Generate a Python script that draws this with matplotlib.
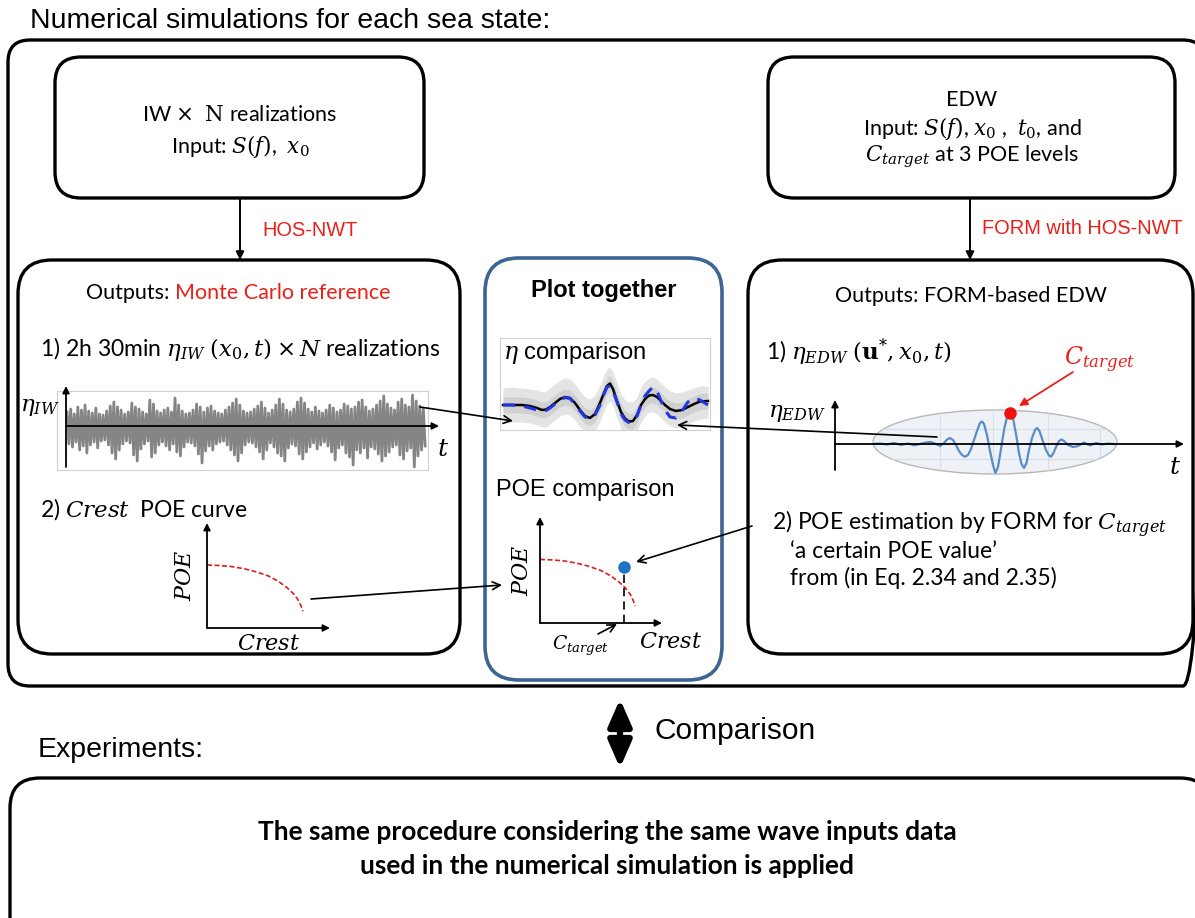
import numpy as np
import matplotlib
matplotlib.use('Agg')
import matplotlib.pyplot as plt
from matplotlib.patches import FancyBboxPatch, Ellipse

plt.rcParams['font.family'] = ['Lato', 'DejaVu Sans']
plt.rcParams['mathtext.fontset'] = 'dejavuserif'

W, H = 1195, 918
RED = '#e8201a'
BOX_BLUE = '#3d6594'
ARIAL = ['Liberation Sans', 'DejaVu Sans']

# ---- data ----
# irregular wave record: crest / trough heights of the sketched signal
iw_upper = [14, 17, 12, 19, 16, 21, 15, 13, 18, 12,
            11, 15, 20, 24, 19, 16, 12, 14, 23, 19,
            17, 14, 12, 26, 22, 15, 13, 16, 18, 14,
            28, 21, 15, 12, 13, 16, 22, 19, 14, 18,
            20, 15, 13, 12, 16, 19, 23, 27, 21, 15,
            13, 14, 17, 20, 24, 18, 13, 16, 21, 27,
            22, 16, 14, 17, 24, 28, 23, 17, 14, 19,
            15, 13, 16, 21, 18, 14, 16, 22, 20, 17,
            19, 24, 26, 19, 15, 17, 21, 25, 30, 22,
            18, 16, 24, 27, 21, 19, 31, 25, 20, 17]
iw_lower = [18, 21, 16, 24, 20, 27, 19, 16, 22, 15,
            14, 19, 27, 33, 24, 18, 15, 17, 29, 35,
            23, 18, 15, 31, 27, 19, 16, 20, 24, 18,
            26, 30, 21, 16, 17, 20, 28, 37, 25, 20,
            24, 18, 16, 15, 19, 24, 29, 35, 27, 19,
            16, 17, 21, 26, 33, 24, 17, 21, 27, 30,
            35, 22, 18, 20, 28, 33, 26, 21, 17, 23,
            19, 16, 20, 26, 34, 22, 19, 27, 31, 39,
            24, 27, 22, 32, 21, 23, 28, 35, 30, 26,
            21, 19, 29, 33, 25, 22, 41, 30, 24, 20]

# eta comparison panel
cmp_t = [3, 12, 22, 30, 37, 42, 46, 50, 55, 60, 65, 70, 75, 80, 85, 90, 95, 100, 104, 107,
         110, 113, 117, 121, 125, 129, 133, 137, 141, 145, 149, 153, 157, 161, 165, 170,
         176, 182, 188, 194, 200, 208]
cmp_mean = [0, 0, 0, -1, -3, -5, -4.5, -2, 2, 6, 8, 7, 2, -5, -11, -13, -9, 2, 12, 19,
            21.5, 16, 4, -7, -13.5, -16.5, -16, -10, 0, 6, 9.5, 10, 8, 4, 0, -4,
            -6, -5, -2, 1, 3.5, 4]
cmp_edw = [0, 0, -1, -3, -5, -6, -5.5, -3, 1, 5, 7.5, 6.5, 1, -6, -12, -13.5, -10, 0, 11, 18,
           19, 14, 3, -9, -15, -17.5, -17, -11, 0, 9, 14, 18, 14, 4, -5, -12,
           -13, -6, 3, 7, 5, 0]
ens_outer_up = [17, 18, 17, 16, 15, 13, 14, 17, 21, 25, 27, 26, 21, 14, 8, 6, 10, 20, 30, 36,
                38, 33, 22, 11, 5, 3, 3, 8, 18, 24, 27, 28, 26, 22, 18, 14,
                12, 13, 15, 17, 19, 19]
ens_outer_lo = [-16, -17, -17, -18, -20, -22, -22, -19, -15, -11, -9, -10, -15, -22, -26, -26, -26, -16, -6, 1,
                4, -1, -13, -24, -26, -26, -26, -26, -17, -11, -7, -7, -9, -13, -17, -21,
                -23, -22, -19, -16, -14, -13]
ens_inner_up = [8, 8, 8, 7, 5, 3, 3.5, 6, 10, 14, 16, 15, 10, 3, -3, -5, -1, 10, 20, 27,
                29.5, 24, 12, 1, -5.5, -8.5, -8, -2, 8, 14, 17.5, 18, 16, 12, 8, 4,
                2, 3, 6, 9, 11.5, 12]
ens_inner_lo = [-8, -8, -8, -9, -11, -13, -12.5, -10, -6, -2, 0, -1, -6, -13, -19, -21, -17, -6, 4, 11,
                13.5, 8, -4, -15, -21.5, -24.5, -24, -18, -8, -2, 1.5, 2, 0, -4, -8, -12,
                -14, -13, -10, -7, -4.5, -4]

# EDW time series (time relative to focus)
edw_t = [-137, -130, -123, -116, -109, -102, -96, -90, -84, -79, -74, -70, -66, -63, -60, -57,
         -54, -51, -48, -45, -42, -39, -36, -33, -30, -28, -26, -23, -20, -17, -14.5, -12,
         -9, -6, -3, 0, 3, 6, 9, 11.5, 14, 16.5, 19, 22, 25, 27, 29.5, 32.5, 36, 39, 41,
         43.5, 46, 49, 51.5, 54, 58, 63, 68, 74, 80, 86, 92, 98, 104]
edw_eta = [0, 0.5, -0.5, 1, -1, 0.5, -1.3, 0, 1.5, 2, 0, -2, 1, 4.5, 6, 4,
           -1, -7, -11, -12.7, -11, -5, 4, 13, 21, 22.5, 20, 9, -7, -21, -29, -23,
           -5, 14, 27, 31, 26, 10, -9, -20, -24, -19, -6, 6, 14, 16, 13, 4, -6, -11.5, -12.7,
           -9, -3, 3, 4.5, 3, -1, -3, -2, 1.5, -1.5, 1, -0.5, 0.5, 0]

# POE curve (sketch) and FORM point
poe_crest = [0, 0.1, 0.2, 0.3, 0.4, 0.5, 0.58, 0.65, 0.70, 0.74, 0.765, 0.78]
poe_value = [0.60, 0.595, 0.585, 0.565, 0.535, 0.495, 0.445, 0.385, 0.33, 0.27, 0.21, 0.16]
c_target = 0.69
poe_form = 0.53

fig = plt.figure(figsize=(W / 100, H / 100), dpi=100)


def px_axes(x0, y0, x1, y1):
    a = fig.add_axes([x0 / W, 1 - y1 / H, (x1 - x0) / W, (y1 - y0) / H])
    return a


# overlay in pixel units for the flow chart
ov = fig.add_axes([0, 0, 1, 1], zorder=10)
ov.set_xlim(0, W)
ov.set_ylim(H, 0)
ov.axis('off')
ov.patch.set_alpha(0)


def box(x0, y0, x1, y1, r, color='k', lw=2.4):
    ov.add_patch(FancyBboxPatch((x0, y0), x1 - x0, y1 - y0,
                                boxstyle=f'round,pad=0,rounding_size={r}',
                                fc='none', ec=color, lw=lw, clip_on=False))


def arrow(x0, y0, x1, y1, style='->', color='k', lw=1.2, ms=14):
    ov.annotate('', xy=(x1, y1), xytext=(x0, y0),
                arrowprops=dict(arrowstyle=style, color=color, lw=lw,
                                mutation_scale=ms, shrinkA=0, shrinkB=0))


# ========== frames ==========
box(8, 40, 1205, 686, 22)
box(55, 57, 424, 198, 26)
box(768, 57, 1175, 198, 26)
box(18, 260, 460, 654, 34)
box(748, 260, 1193, 654, 34)
box(485, 258, 722, 680, 34, color=BOX_BLUE, lw=2.6)
box(10, 778, 1210, 990, 30)

# ========== texts ==========
FS = 15.5
ov.text(30, 21, 'Numerical simulations for each sea state:', family=ARIAL, fontsize=20.5,
        ha='left', va='center')
ov.text(240, 115, r'IW $\times$  $\mathrm{N}$ realizations', fontsize=FS, ha='center', va='center')
ov.text(240, 147, r'Input: $S(f)$,  $x_0$', fontsize=FS, ha='center', va='center')
ov.text(972, 100, 'EDW', fontsize=FS, ha='center', va='center')
ov.text(972, 129, r'Input: $S(f)$, $x_0$ ,  $t_0$, and', fontsize=FS, ha='center', va='center')
ov.text(972, 157, r'$C_{target}$ at 3 POE levels', fontsize=FS, ha='center', va='center')

arrow(240, 198, 240, 260, style='-|>', lw=1.4, ms=12)
arrow(970, 198, 970, 260, style='-|>', lw=1.4, ms=12)
ov.text(262, 230, 'HOS-NWT', family=ARIAL, fontsize=14.4, color=RED, va='center')
ov.text(982, 229, 'FORM with HOS-NWT', family=ARIAL, fontsize=14.4, color=RED, va='center')

t_out = ov.text(86, 293, 'Outputs:', fontsize=FS, ha='left', va='center')
ov.annotate('Monte Carlo reference', xy=(1, 0.5), xycoords=t_out, xytext=(4, 0),
            textcoords='offset points', fontsize=FS, color=RED, ha='left', va='center')
ov.text(971, 296, 'Outputs: FORM-based EDW', fontsize=FS, ha='center', va='center')
ov.text(604, 290, 'Plot together', family=ARIAL, fontsize=17, fontweight='bold',
        ha='center', va='center')

ov.text(40, 349, r'1) 2h 30min $\eta_{IW}$ $(x_0, t)\times N$ realizations', fontsize=16.5,
        ha='left', va='center')
ov.text(40, 509, r'2) $Crest$  POE curve', fontsize=16.5, ha='left', va='center')
ov.text(766, 352, r'1) $\eta_{EDW}$ $(\mathbf{u}^{*}, x_0, t)$', fontsize=16.5, ha='left', va='center')
ov.text(772, 524, r'2) POE estimation by FORM for $C_{target}$', fontsize=16.5, ha='left', va='center')
ov.text(790, 551, '\u2018a certain POE value\u2019', fontsize=16.5, ha='left', va='center')
ov.text(790, 578, 'from (in Eq. 2.34 and 2.35)', fontsize=16.5, ha='left', va='center')
ov.text(496, 490, 'POE comparison', family=ARIAL, fontsize=17, ha='left', va='center')

ov.text(655, 731, 'Comparison', family=ARIAL, fontsize=21.5, ha='left', va='center')
ov.text(38, 750, 'Experiments:', family=ARIAL, fontsize=20.5, ha='left', va='center')
ov.annotate('', xy=(620, 699), xytext=(620, 768),
            arrowprops=dict(arrowstyle='<|-|>,head_length=0.8,head_width=0.35', color='k',
                            lw=4.5, mutation_scale=20, shrinkA=0, shrinkB=0))
ov.text(607, 832, 'The same procedure considering the same wave inputs data', fontsize=19,
        fontweight='bold', ha='center', va='center')
ov.text(607, 866, 'used in the numerical simulation is applied', fontsize=19,
        fontweight='bold', ha='center', va='center')

# ========== IW record ==========
ax_iw = px_axes(57, 391, 428, 470)
idx = np.arange(len(iw_upper))
xs = np.empty(2 * len(idx))
ys = np.empty(2 * len(idx))
xs[0::2] = idx
xs[1::2] = idx + 0.5
ys[0::2] = iw_upper
ys[1::2] = -np.array(iw_lower)
ax_iw.plot(xs, ys, color='#858585', lw=2.0)
ax_iw.set_xlim(-2.8, 100.3)
ax_iw.set_ylim(-44, 35)
ax_iw.set_xticks([])
ax_iw.set_yticks([])
for s in ax_iw.spines.values():
    s.set_color('#d0d0d0')
    s.set_linewidth(0.8)
arrow(66, 467, 66, 386, style='-|>', lw=1.3, ms=10)
arrow(66, 426, 439, 426, style='-|>', lw=1.3, ms=10)
ov.text(40, 408, r'$\eta_{IW}$', fontsize=16.5, ha='center', va='center')
ov.text(443, 448, r'$t$', fontsize=18, ha='center', va='center')

# ========== eta comparison ==========
ax_c = px_axes(500, 338, 710, 430)
ax_c.fill_between(cmp_t, ens_outer_lo, ens_outer_up, color='#e4e4e4', lw=0)
ax_c.fill_between(cmp_t, ens_inner_lo, ens_inner_up, color='#cccccc', lw=0, alpha=0.8)
ax_c.plot(cmp_t, cmp_mean, color='k', lw=1.8)
ax_c.plot(cmp_t, cmp_edw, color='#2236e0', lw=2.2, dashes=(4, 3))
ax_c.set_xlim(0, 210)
ax_c.set_ylim(-25, 67)
ax_c.set_xticks([])
ax_c.set_yticks([])
for s in ax_c.spines.values():
    s.set_color('#d0d0d0')
    s.set_linewidth(0.8)
ax_c.text(0.015, 0.98, r'$\eta$ comparison', transform=ax_c.transAxes, family=ARIAL,
          fontsize=17, ha='left', va='top')

# ========== EDW ==========
ax_e = px_axes(873, 410, 1117, 474)
ell = Ellipse((0.5, 0.5), 1, 1, transform=ax_e.transAxes, fc='#eef2f6', ec='#b8b8b8',
              lw=1, clip_on=False)
ax_e.add_patch(ell)
for gx in [-70, -17, 38, 90]:
    ax_e.axvline(gx, color='#d7dfe8', lw=0.8, clip_path=ell)
for gy in [-15, 15]:
    ax_e.axhline(gy, color='#d7dfe8', lw=0.8, clip_path=ell)
ax_e.plot(edw_t, edw_eta, color='#5a8cc6', lw=1.6)
ax_e.plot([0], [max(edw_eta)], 'o', color='#f01010', ms=8, clip_on=False, zorder=5)
ax_e.set_xlim(-137, 107)
ax_e.set_ylim(-30, 34)
ax_e.axis('off')
arrow(835, 470, 835, 400, style='-|>', lw=1.3, ms=10)
arrow(835, 444, 1184, 444, style='-|>', lw=1.3, ms=10)
ov.text(797, 414, r'$\eta_{EDW}$', fontsize=16.5, ha='center', va='center')
ov.text(1175, 467, r'$t$', fontsize=18, ha='center', va='center')
ov.text(1100, 360, r'$C_{target}$', fontsize=17, color=RED, ha='center', va='center')
arrow(1073, 372, 1019, 406, style='-|>', color=RED, lw=1.3, ms=12)

# ========== POE plots ==========
def poe_axes(x0, y0, x1, y1):
    a = px_axes(x0, y0, x1, y1)
    a.set_xlim(0, 1)
    a.set_ylim(0, 1)
    a.axis('off')
    for end in [(1, 0), (0, 1)]:
        a.annotate('', xy=end, xytext=(0, 0), xycoords='axes fraction',
                   arrowprops=dict(arrowstyle='-|>', color='k', lw=1.3,
                                   mutation_scale=10, shrinkA=0, shrinkB=0))
    a.plot(poe_crest, poe_value, color='#d62020', lw=1.2, dashes=(3, 1.5))
    return a


ax_p1 = poe_axes(207, 523, 330, 628)
ax_p1.text(-0.18, 0.5, r'$POE$', transform=ax_p1.transAxes, rotation=90, fontsize=16,
           ha='center', va='center')
ax_p1.text(0.5, -0.15, r'$Crest$', transform=ax_p1.transAxes, fontsize=16,
           ha='center', va='center')

ax_p2 = poe_axes(540, 517, 662, 623)
ax_p2.plot([c_target, c_target], [0, poe_form], color='k', lw=1.2, dashes=(5, 3))
ax_p2.plot([c_target], [poe_form], 'o', color='#1f72c4', ms=8, zorder=5)
ax_p2.text(-0.15, 0.5, r'$POE$', transform=ax_p2.transAxes, rotation=90, fontsize=16,
           ha='center', va='center')
ax_p2.text(1.07, -0.18, r'$Crest$', transform=ax_p2.transAxes, fontsize=16,
           ha='center', va='center')
ax_p2.text(0.33, -0.22, r'$C_{target}$', transform=ax_p2.transAxes, fontsize=13.5,
           ha='center', va='center')

# ========== connectors ==========
arrow(420, 407, 513, 421)
arrow(937, 437, 677, 425)
arrow(311, 599, 502, 585)
arrow(752, 526, 636, 562)
arrow(598, 634, 617, 624)

fig.savefig('out.png', dpi=100, facecolor='white')
